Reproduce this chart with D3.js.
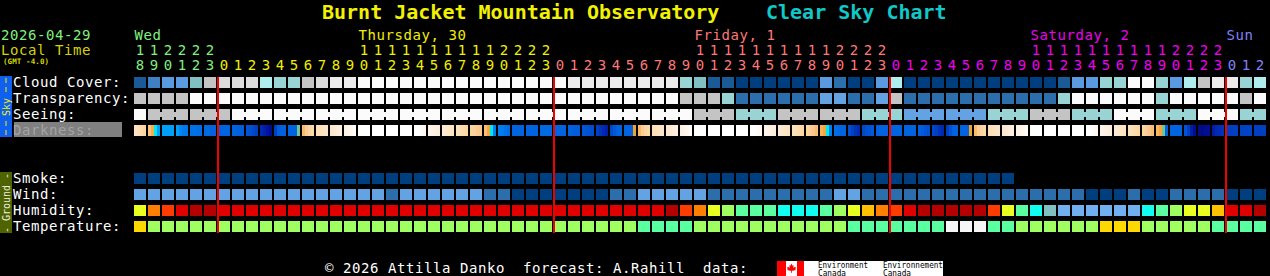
<!DOCTYPE html>
<html><head><meta charset="utf-8">
<script src="https://cdn.jsdelivr.net/npm/d3@7"></script>
<style>
html,body{margin:0;padding:0;background:#000;overflow:hidden;}
svg{display:block;}
text{font-family:"DejaVu Sans Mono",monospace;white-space:pre;}
</style></head><body>
<svg id="c" width="1270" height="276"></svg>
<script>
// ---------------- data ----------------
const titleLeft = "Burnt Jacket Mountain Observatory";
const titleRight = "Clear Sky Chart";
const chartDate = "2026-04-29";
const tzLabel = "Local Time";
const gmtLabel = "(GMT -4.0)";
const footerText = "© 2026 Attilla Danko  forecast: A.Rahill  data:";

const dayNames = ["Wed", "Thursday, 30", "Friday, 1", "Saturday, 2", "Sun"];
const hours = [18,19,20,21,22,23,
  0,1,2,3,4,5,6,7,8,9,10,11,12,13,14,15,16,17,18,19,20,21,22,23,
  0,1,2,3,4,5,6,7,8,9,10,11,12,13,14,15,16,17,18,19,20,21,22,23,
  0,1,2,3,4,5,6,7,8,9,10,11,12,13,14,15,16,17,18,19,20,21,22,23,
  0,1,2];

const skyRows = ["Cloud Cover:", "Transparency:", "Seeing:", "Darkness:"];
const groundRows = ["Smoke:", "Wind:", "Humidity:", "Temperature:"];

// category codes (0 = darkest blue / best)
const cloud = [1,3,4,4,5,8,9,9,9,7, 6,6,8,9,10,10,11,11,11,11,
  11,11,11,11,11,11,11,11,11,11, 11,10,10,10,10,10,10,10,10,6,
  5,1,1,0,0,0,0,0,0,4, 2,0,0,4,7,0,0,0,0,0,
  0,0,0,0,0,0,1,4,4,6, 6,11,11,6,4,7,8,10,10,6, 7];
const transparency = [4,4,4,4,5,5,5,5,5,5, 5,5,5,5,5,5,5,5,5,5,
  5,5,5,5,5,5,5,5,5,5, 5,5,5,5,5,5,5,5,5,4,
  4,4,3,1,1,1,1,1,1,2, 2,1,1,2,4,1,1,1,1,1,
  1,1,1,1,1,1,3,5,5,5, 5,5,5,3,5,5,5,5,5,4, 5];
const seeing = [5,4,4,4,4,4,4,5,5,5, 5,5,5,5,5,5,5,5,5,5,
  5,5,5,5,5,5,5,5,5,5, 5,5,5,5,5,5,5,5,5,5,
  4,4,4,3,3,3,4,4,4,4, 4,4,3,3,3,2,2,2,2,2,
  2,3,3,3,4,4,4,3,3,3, 5,5,5,3,3,3,5,5,5,3, 3];
// sky brightness per quarter hour (negative = sun up, positive = darker)
const darkness = [
  [-3.5,-3,-2.5,-2],[-1,-0.3,1,2],[2,2,2,2],[2,2.8,3.2,3.3],[3.5,3.5,3.6,3.6],[3.8,3.8,4,4],
  [4,4,4,4],[4,4.1,4.2,4.3],[4.8,5,5.5,6],[7,7.5,8,8.7],[6,4.3,4.2,4.2],[4,4,4,0.5],
  [-0.7,-1.5,-2,-2.5],[-3,-3.3,-3.6,-4],[-4.5,-5,-5.5,-6],[-6.5,-7,-8,-9],
  [-10,-10,-10,-10],[-10,-10,-10,-10],[-10,-10,-10,-10],[-10,-10,-10,-10],
  [-10,-10,-9,-8],[-7,-6.5,-6,-5.5],[-5,-4.5,-4,-3.5],[-3,-2.8,-2.5,-2.2],
  [-2,-1.8,-1.5,-1.2],[-0.8,-0.2,1,3],[3,3.2,3.5,3.8],[4,4,4,4],[4,4,4,4],[3.8,3.8,3.8,3.8],
  [4,4,4,4],[4.1,4.2,4.3,4.4],[4.6,4.8,5,5.2],[6,6.5,7,7.5],[5.5,4.6,4.2,4],[4,4,4,0],
  [-0.7,-1.5,-2,-2.5],[-3,-3.3,-3.6,-4],[-4.5,-5,-5.5,-6],[-6.5,-7,-8,-9],
  [-10,-10,-10,-10],[-10,-10,-10,-10],[-10,-10,-10,-10],[-10,-10,-10,-10],
  [-10,-10,-9,-8],[-7,-6.5,-6,-5.5],[-5,-4.5,-4,-3.5],[-3,-2.8,-2.5,-2.2],
  [-2,-1.6,-1.2,-0.8],[-0.5,-0.2,1,3],[3.6,3.8,4,4],[5,6,6.5,7],[5.5,5,4.8,4.6],[4.2,4,4,4],
  [4,4,4,4],[4,4,4,4],[4.2,4.4,4.8,5],[5.5,6,6.5,7],[6,4.8,4.2,4],[4,4,4,0],
  [-0.7,-1.5,-2,-2.5],[-3,-3.3,-3.6,-4],[-4.5,-5,-5.5,-6],[-6.5,-7,-8,-9],
  [-10,-10,-10,-10],[-10,-10,-10,-10],[-10,-10,-10,-10],[-10,-10,-10,-10],
  [-10,-10,-9,-8],[-7,-6.5,-6,-5.5],[-5,-4.5,-4,-3.5],[-3,-2.8,-2.5,-2.2],
  [-2,-1.6,-1.2,-0.8],[-0.6,-0.2,0.5,4],[4,4,4,4],[4.8,6,7.5,8.5],[8.7,8.8,8.6,8.3],[7.5,7,6.8,6.5],
  [6,6,6,6],[5.8,5.8,5.8,5.8],[6,6,6,6]];
const smoke = [0,0,0,0,0,0,0,0,0,0, 0,0,0,0,0,0,0,0,0,0,
  0,0,0,0,0,0,0,0,0,0, 0,0,0,0,0,0,0,0,0,0,
  0,0,0,0,0,0,0,0,0,0, 0,0,0,0,0,0,0,0,0,0, 0,0,0];
const wind = [2,2,2,2,2,2,2,2,2,2, 2,2,2,2,2,2,2,2,1,2,
  2,2,2,2,2,1,1,0,0,0, 0,0,0,0,1,1,2,2,2,2,
  2,1,1,1,1,1,1,1,1,1, 2,2,1,1,1,1,1,1,1,1,
  1,1,1,1,1,1,1,1,0,0, 0,1,0,0,1,1,1,1,0,0, 0];
const humidity = [5,7,8,9,10,10,9,9,9,9, 9,9,9,9,9,9,9,9,9,9,
  9,9,9,9,9,9,9,9,9,9, 9,9,9,9,9,9,9,9,10,8,
  7,5,4,3,3,3,2,2,2,3, 4,5,6,7,8,9,10,10,10,10,
  10,8,5,3,2,1,0,0,0,0, 0,0,2,3,4,5,5,6,9,9, 10];
const temperature = [3,2,2,2,2,2,2,2,2,2, 2,2,2,2,2,2,2,2,2,2,
  2,2,2,2,2,2,2,2,2,2, 2,2,2,2,2,2,1,1,1,1,
  2,2,2,2,2,2,2,2,2,2, 2,1,1,1,1,1,1,1,0,0,
  0,1,1,2,2,2,2,2,2,3, 3,3,2,2,2,2,2,1,1,1, 1];

// ---------------- styles ----------------
const cloudColors = ["#003f7f","#1a5a96","#2c6dab","#3f80c4","#5a9ae0","#80c0c0","#98d4d4","#aeeeee","#c4c4c4","#dcdcdc","#ececec","#fbfbfb"];
const skyColors = ["#003f7f","#2c6dab","#63a3e3","#98d4d4","#c4c4c4","#fbfbfb"];
const humColors = ["#70b0f0","#80c0c0","#10fff0","#5affa0","#a0ff60","#e8ff20","#ffc000","#ff8000","#ff3c00","#e00000","#b40000"];
const tempColors = ["#f6f6f6","#5affa0","#a0ff60","#ffd800"];
const dayColors = ["#80f080","#f0f000","#ff7878","#f000f0","#8080ff"];
const darkScale = d3.scaleLinear()
  .domain([-10,-7,-5,-3,-2,-1,-0.4,0,1,2,3,4,5,6,7,8,9])
  .range(["#ffffff","#fef4ea","#fdead4","#fde0b8","#fcd4a0","#fcc484","#f8b050","#f0a030",
          "#00e8f0","#00a0f8","#0080f0","#0064e0","#0050d0","#0040c0","#0028b0","#0014a0","#000880"])
  .interpolate(d3.interpolateRgb).clamp(true);

// ---------------- drawing ----------------
const svg = d3.select("#c");
const N = hours.length;
const x = d3.scaleLinear().domain([0, N]).range([134, 134 + 14 * N]);
const cw = x(1) - x(0) - 2;
const ySky = d3.scaleBand().domain(skyRows).range([77, 136]).paddingInner(5/16);
const yGround = d3.scaleBand().domain(groundRows).range([173, 232]).paddingInner(5/16);
const bh = ySky.bandwidth();

// day index of each column
const dayIdx = [];
hours.forEach((h, i) => dayIdx.push(i === 0 ? 0 : dayIdx[i-1] + (h < hours[i-1] ? 1 : 0)));

// title
svg.append("text").attr("x", 322).attr("y", 19).attr("font-size", 20).attr("font-weight", "bold")
  .attr("fill", "#f2f200").text(titleLeft);
svg.append("text").attr("x", 766).attr("y", 19).attr("font-size", 20).attr("font-weight", "bold")
  .attr("fill", "#10c8c8").text(titleRight);

const lbl = (t, xx, yy, col, fs = 14) => svg.append("text").attr("x", xx).attr("y", yy)
  .attr("font-size", fs).attr("letter-spacing", fs === 14 ? 0.57 : 0).attr("fill", col).text(t);

lbl(chartDate, 1, 40, "#80f080");
lbl(tzLabel, 1, 55, "#d4d400");
svg.append("text").attr("x", 3).attr("y", 64).attr("font-size", 7.5).attr("font-weight", "bold")
  .attr("letter-spacing", 0.1).attr("fill", "#d4d400").text(gmtLabel);

// day labels
dayNames.forEach((name, d) => {
  const cols = d3.range(N).filter(i => dayIdx[i] === d);
  const c = cols.find(i => hours[i] >= 10) ?? cols[0];
  lbl(name, x(c) + 0.5, 40, dayColors[d]);
});
// hour digits
const hg = svg.append("g").attr("font-size", 14).attr("text-anchor", "middle");
hg.selectAll(".tens").data(hours.map((h, i) => ({h, i})).filter(d => d.h >= 10)).join("text")
  .attr("x", d => x(d.i) + cw / 2).attr("y", 55).attr("fill", d => dayColors[dayIdx[d.i]])
  .text(d => Math.floor(d.h / 10));
hg.selectAll(".units").data(hours.map((h, i) => ({h, i}))).join("text")
  .attr("x", d => x(d.i) + cw / 2).attr("y", 70).attr("fill", d => dayColors[dayIdx[d.i]])
  .text(d => d.h % 10);

// side bars
svg.append("rect").attr("x", 0).attr("y", 76).attr("width", 12).attr("height", 61).attr("fill", "#1060f0");
svg.append("line").attr("x1", 6).attr("x2", 6).attr("y1", 78).attr("y2", 96).attr("stroke", "#f0f000")
  .attr("stroke-width", 1).attr("stroke-dasharray", "5,4");
svg.append("line").attr("x1", 6).attr("x2", 6).attr("y1", 121).attr("y2", 136).attr("stroke", "#f0f000")
  .attr("stroke-width", 1).attr("stroke-dasharray", "5,4");
svg.append("text").attr("transform", "translate(9.5,107) rotate(-90)").attr("text-anchor", "middle")
  .attr("font-size", 10).attr("fill", "#f0f000").text("Sky");
svg.append("rect").attr("x", 0).attr("y", 172).attr("width", 12).attr("height", 61).attr("fill", "#4f6400");
svg.append("text").attr("transform", "translate(9.5,203) rotate(-90)").attr("text-anchor", "middle")
  .attr("font-size", 10).attr("fill", "#f0f0e0").text("- Ground -");

// row labels
svg.append("rect").attr("x", 14).attr("y", ySky("Darkness:") - 3).attr("width", 108).attr("height", 15).attr("fill", "#808080");
skyRows.forEach(r => lbl(r, 13, ySky(r) + 9.5, r === "Darkness:" ? "#a4a4a4" : "#ffffff"));
groundRows.forEach(r => lbl(r, 13, yGround(r) + 9.5, "#ffffff"));

const cells = svg.append("g").attr("shape-rendering", "crispEdges");
function row(vals, yy, colorOf) {
  cells.append("g").selectAll("rect").data(vals).join("rect")
    .attr("x", (d, i) => x(i)).attr("y", yy).attr("width", cw).attr("height", bh)
    .attr("fill", colorOf);
}
row(cloud, ySky("Cloud Cover:"), d => cloudColors[d]);
row(transparency, ySky("Transparency:"), d => skyColors[d]);
row(seeing, ySky("Seeing:"), d => skyColors[d]);
// seeing connectors (3-hour forecast blocks)
cells.append("g").selectAll("rect")
  .data(d3.range(N - 1).filter(i => hours[i + 1] % 3 !== 1 && seeing[i] === seeing[i + 1]))
  .join("rect").attr("x", i => x(i) + cw).attr("width", x(1) - x(0) - cw)
  .attr("y", ySky("Seeing:") + 3).attr("height", bh - 6).attr("fill", i => skyColors[seeing[i]]);
// darkness quarter-hour strips
const q = cw / 4;
cells.append("g").selectAll("g").data(darkness).join("g")
  .selectAll("rect").data((d, i) => d.map((v, k) => ({v, k, i}))).join("rect")
  .attr("x", d => x(d.i) + d.k * q).attr("y", ySky("Darkness:")).attr("width", q).attr("height", bh)
  .attr("fill", d => darkScale(d.v));
row(smoke, yGround("Smoke:"), d => skyColors[d]);
row(wind, yGround("Wind:"), d => skyColors[d]);
row(humidity, yGround("Humidity:"), d => humColors[d]);
row(temperature, yGround("Temperature:"), d => tempColors[d]);

// midnight lines
cells.append("g").selectAll("rect").data(d3.range(1, N).filter(i => hours[i] === 0)).join("rect")
  .attr("x", i => x(i) - 1).attr("width", 2).attr("y", 77).attr("height", 156).attr("fill", "#f00000");

// footer
lbl(footerText, 325, 273, "#ffffff");
const logo = svg.append("g");
logo.append("rect").attr("x", 777).attr("y", 261).attr("width", 166).attr("height", 15).attr("fill", "#ffffff");
logo.append("rect").attr("x", 777).attr("y", 261).attr("width", 9).attr("height", 15).attr("fill", "#ff0000");
logo.append("rect").attr("x", 797).attr("y", 261).attr("width", 7).attr("height", 15).attr("fill", "#ff0000");
logo.append("path").attr("transform", "translate(791.5,268) scale(1.1)").attr("fill", "#ff0000")
  .attr("d", "M0,-4 L1,-2 L2,-2.5 L1.6,0 L3.2,-1.2 L3.6,-0.4 L4.2,-0.6 L3.4,1.4 L4,1.8 L1.2,2.6 L0.4,2.4 L0.3,4.5 L-0.3,4.5 L-0.4,2.4 L-1.2,2.6 L-4,1.8 L-3.4,1.4 L-4.2,-0.6 L-3.6,-0.4 L-3.2,-1.2 L-1.6,0 L-2,-2.5 L-1,-2 Z");
const lt = (t, xx, yy, len) => logo.append("text").attr("x", xx).attr("y", yy)
  .attr("font-family", "Liberation Sans, Arial, sans-serif").attr("font-size", 9).attr("fill", "#000")
  .attr("textLength", len).attr("lengthAdjust", "spacingAndGlyphs").text(t);
lt("Environment", 818, 268, 50);
lt("Canada", 818, 275.5, 28);
lt("Environnement", 883, 268, 60);
lt("Canada", 883, 275.5, 28);
</script>
</body></html>
